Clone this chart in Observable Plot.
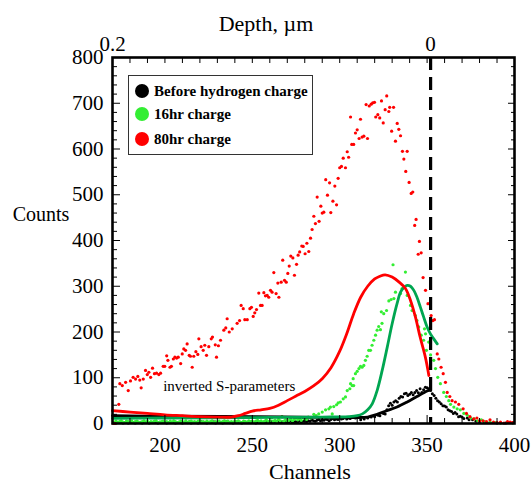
<!DOCTYPE html>
<html>
<head>
<meta charset="utf-8">
<script src="https://cdn.jsdelivr.net/npm/d3@7"></script>
<script src="https://cdn.jsdelivr.net/npm/@observablehq/plot@0.6"></script>
<style>
  html, body { margin: 0; padding: 0; background: #fff; }
  #wrap { position: relative; width: 531px; height: 484px; font-family: "Liberation Serif", "Times New Roman", serif; color: #000; }
  .t { position: absolute; white-space: nowrap; line-height: 1; transform: translate(-50%, -50%); }
  #legend { position: absolute; left: 128px; top: 75px; width: 183px; height: 78px; border: 1.5px solid #333; background: #fff; }
  .li { position: absolute; left: 6px; font-weight: bold; font-size: 15px; line-height: 1; white-space: nowrap; }
  .li span.c { display: inline-block; width: 14px; height: 14px; border-radius: 50%; vertical-align: -2px; margin-right: 5px; }
</style>
</head>
<body>
<div id="wrap"></div>
<script>
// ---------- data ----------
const seriesNames = ["Before hydrogen charge", "16hr charge", "80hr charge"];
const seriesColors = ["#000000", "#33ee33", "#ff0000"];
const fitColors = ["#000000", "#00a651", "#ff0000"];

const xMajor = [200, 250, 300, 350, 400];
const xMinor = [180, 190, 210, 220, 230, 240, 260, 270, 280, 290, 310, 320, 330, 340, 360, 370, 380, 390];
const yMajor = [0, 100, 200, 300, 400, 500, 600, 700, 800];
const yMinor = [20, 40, 60, 80, 120, 140, 160, 180, 220, 240, 260, 280, 320, 340, 360, 380, 420, 440, 460, 480, 520, 540, 560, 580, 620, 640, 660, 680, 720, 740, 760, 780];
const depthLabels = ["0.2", "0"];
const depthChannels = [170, 352];
const surfaceChannel = [352];

// 80hr charge, measured points [channel, counts]
const redDots = [[170.5,0],[171.5,0],[173.6,42],[174.2,87],[175.6,83],[177.5,90],[179,72],[180.3,93],[181.8,101],[183.2,97],[184.5,103],[185.6,95],[186.4,78],[187.6,97],[188.9,116],[189.9,107],[190.8,112],[191.8,101],[192.9,121],[194,109],[195.2,110],[196.5,107],[197.5,110],[199,125],[199.9,125],[201,148],[201.7,138],[202.9,123],[203.7,125],[204.8,141],[205.7,145],[206.7,143],[207.6,145],[209,131],[209.9,152],[210.8,163],[211.8,160],[212.7,174],[213.9,149],[214.6,147],[215.6,123],[216.5,147],[217.7,157],[218.8,151],[219.4,185],[220.7,168],[221.9,160],[222.8,171],[223.8,149],[225.1,168],[226.5,185],[227.2,189],[228.8,172],[229.5,145],[230.6,170],[231.8,182],[233.7,204],[234.8,209],[235.6,229],[236.8,200],[238.5,207],[241.3,219],[242.7,225],[243.6,258],[244.8,251],[245.7,227],[247.1,227],[248.6,251],[249.5,254],[250.5,234],[251.4,242],[252.4,249],[253.7,285],[254.7,258],[255.6,258],[256.6,286],[257.5,279],[258.5,280],[259.4,276],[260.4,291],[261.3,287],[262.3,330],[263.6,284],[264.6,307],[265.2,276],[266.5,309],[267.4,357],[268.4,313],[269.4,309],[270.3,328],[271.1,344],[272,366],[273.2,362],[274.1,324],[275.3,348],[276.2,368],[277.1,375],[278.3,388],[279.1,387],[280.2,371],[281.2,394],[282.3,376],[283.3,405],[284.2,424],[285.2,453],[286.1,437],[287.1,495],[288.2,442],[289.2,475],[290,460],[290.9,462],[292,533],[293,499],[294.2,526],[294.9,461],[296.1,486],[297.2,519],[298.2,478],[299.1,536],[300,559],[301,562],[302,580],[303.3,559],[304.3,594],[305.1,582],[306.2,670],[306.9,610],[308,610],[309,635],[310,642],[311.1,623],[311.9,665],[312.8,626],[313.8,628],[315.1,697],[315.9,623],[316.9,694],[318,698],[318.9,701],[319.9,702],[320.6,670],[321.8,675],[322.9,668],[323.9,705],[324.9,657],[326,686],[326.9,716],[328.1,682],[328.6,691],[329.7,639],[330.8,691],[331.9,617],[332.9,656],[333.8,643],[334.8,629],[335.9,595],[336.7,578],[337.8,551],[338.6,595],[339.7,527],[340.9,503],[341.8,506],[342.9,433],[343.7,446],[344.9,370],[345.6,398],[346.6,373],[347.7,319],[349.1,291],[350.5,262],[352.3,236],[353.3,225],[354.2,227],[355.8,152],[356.7,141],[358,123],[359.2,109],[360.5,90],[361.5,68],[363,59],[364.3,50],[366.2,47],[368.1,42],[370.6,32],[372.5,22],[374.5,15],[376.7,10],[378.5,12],[380,6],[382,6],[384,4],[386,8],[388,3],[390,2],[392,3],[394,1],[396,4],[397.5,3],[399,2]];

// 16hr charge: low plateau counts for channels 171..282, then measured points
const greenLowStart = 171;
const greenLow = [3,5,2,4,6,3,2,5,4,3, 6,2,4,5,3,2,4,6,3,5, 2,4,3,5,6,2,3,4,5,3, 4,2,5,3,6,4,2,3,5,4, 3,6,2,4,5,3,4,2,5,6, 3,4,2,5,3,4,6,2,4,3, 5,2,4,6,3,5,2,4,3,5, 4,6,3,2,5,4,3,6,4,5, 3,5,7,4,6,3,5,8,4,6, 12,5,7,4,9,6,15,5,8,6, 7,10,6,9,12,8,11,7,13,10, 9,14];
const greenDots = [[283.5,12],[285.2,20],[286.5,17],[288,21],[290,25],[291.9,30],[293.8,32],[294.7,36],[295.7,21],[296.6,37],[298.2,41],[299.1,45],[300.4,47],[302,54],[303.3,58],[304.3,72],[305.8,76],[306.2,87],[307.1,83],[307.7,98],[308,83],[309,109],[310,114],[311,120],[311.9,125],[312.8,123],[313.8,127],[314.7,138],[315.7,147],[316.6,160],[317.6,160],[318.5,171],[319.5,182],[320.5,193],[321.4,204],[322.3,212],[323.3,205],[323.8,244],[324.2,219],[325.2,240],[326.8,247],[328.1,268],[329.4,271],[330.5,347],[331,273],[331.9,287],[334.8,284],[335.7,295],[337.6,331],[338.6,280],[340.5,258],[341.4,247],[343.3,236],[344.2,225],[345.2,211],[346.6,193],[348,182],[348.5,207],[349.1,196],[349.6,160],[350.9,178],[352,150],[353.8,138],[354.8,120],[356.1,101],[357.6,87],[359.5,68],[361,59],[362.4,50],[363.4,42],[365.3,36],[367.2,32],[369,30],[371,22],[373,18],[375,12],[377,10],[379,6],[381,8],[383,4],[386,3],[389,2],[392,1],[396,2],[399,1]];

// Before hydrogen charge: low plateau counts for channels 171..311, then measured points
const blackLowStart = 171;
const blackLow = [2,1,3,2,4,1,2,3,1,2, 3,2,1,4,2,3,1,2,3,2, 1,3,2,4,2,1,3,2,2,3, 1,2,4,2,3,1,2,3,2,1, 3,2,2,4,1,3,2,3,1,2, 4,2,3,1,2,3,2,4,1,3, 2,3,1,2,4,2,3,2,1,3, 2,4,3,1,2,3,2,4,3,2, 3,1,4,2,3,2,4,3,2,3, 4,2,3,5,3,2,4,3,5,3, 4,6,3,5,4,3,6,4,5,7, 4,6,5,8,6,5,7,9,6,8, 7,10,8,6,9,11,8,10,9,12, 10,11,13,10,12,11,14,13,12,15, 14];
const blackDots = [[312,8],[314,10],[316,12],[318,14],[320,15],[322,18],[323,17],[325,22],[326,21],[327,30],[328,39],[329,44],[330,40],[331,47],[332,50],[333,47],[334,55],[335,59],[336,58],[337,65],[338,66],[339,61],[340,64],[341,68],[342,63],[343,68],[344,72],[345,67],[346,76],[347,68],[348,74],[349,79],[350,78],[351,76],[352,72],[353,65],[354,61],[355,55],[356,50],[357,47],[358,43],[359,39],[360,38],[361,36],[362,30],[363,28],[364,26],[365,22],[366,24],[367,21],[368,15],[369,16],[370,14],[371,11],[373,12],[374,8],[376,8],[378,5],[380,4],[383,3],[386,2],[390,1],[395,1],[399,2]];

// inverted S-parameter fits [channel, counts]
const redFit = [[170,28],[180,25],[190,22],[200,19],[210,17],[220,15],[230,14],[238,14],[242,17],[246,22],[250,27],[255,30],[260,33],[265,40],[270,50],[275,60],[280,70],[285,82],[290,98],[295,122],[300,158],[304,196],[308,240],[312,276],[316,300],[320,316],[323,322],[326,325],[330,320],[334,309],[337.6,295],[340.5,269],[343.3,233],[346,189],[349,145],[351,105]];
const greenFit = [[170,11],[200,12],[250,13],[290,14],[305,15],[310,17],[313,21],[316,30],[318.6,43],[321.4,72],[324.3,116],[327.2,167],[330,218],[332.8,262],[334.8,287],[336.7,297],[338.6,302],[340.5,300],[342.4,291],[344.2,276],[346.1,255],[348,233],[350,211],[351.9,196],[353.8,185],[355.8,174]];
const blackFit = [[170,17],[200,16],[250,15],[300,13],[310,13],[316,14],[321.4,20],[327,28],[332.8,36],[338.6,47],[344.2,59],[350,71],[352,74]];

const annotation = [{ch: 199, c: 81, text: "inverted S-parameters"}];

// ---------- build ----------
const lowRows = (start, arr) => arr.map((v, i) => [start + i, v]);
const greenAll = lowRows(greenLowStart, greenLow).concat(greenDots);
const blackAll = lowRows(blackLowStart, blackLow).concat(blackDots);

const blank = () => "";
const chart = Plot.plot({
  width: 531,
  height: 484,
  marginLeft: 112,
  marginRight: 17,
  marginTop: 57,
  marginBottom: 61,
  style: { fontFamily: "'Liberation Serif', 'Times New Roman', serif", fontSize: "21px", background: "#fff", color: "#000", overflow: "visible" },
  x: { domain: [170, 400] },
  y: { domain: [0, 800] },
  marks: [
    // dots
    Plot.dot(blackAll, { x: d => d[0], y: d => d[1], r: 1.5, fill: seriesColors[0], stroke: null }),
    Plot.dot(greenAll, { x: d => d[0], y: d => d[1], r: 1.6, fill: seriesColors[1], stroke: null }),
    Plot.dot(redDots, { x: d => d[0], y: d => d[1], r: 1.6, fill: seriesColors[2], stroke: null }),
    // fits
    Plot.line(blackFit, { x: d => d[0], y: d => d[1], stroke: fitColors[0], strokeWidth: 2.8, curve: "catmull-rom" }),
    Plot.line(greenFit, { x: d => d[0], y: d => d[1], stroke: fitColors[1], strokeWidth: 2.8, curve: "catmull-rom" }),
    Plot.line(redFit, { x: d => d[0], y: d => d[1], stroke: fitColors[2], strokeWidth: 2.8, curve: "catmull-rom" }),
    // surface line (dashes start at the top)
    Plot.ruleX(surfaceChannel, { x: d => d, y1: 800, y2: 0, stroke: "#000", strokeWidth: 3.2, strokeDasharray: "13,7" }),
    Plot.text(annotation, { x: "ch", y: "c", text: "text", textAnchor: "start", fontSize: 15, fill: "#000" }),
    // axes: labels
    Plot.axisX({ anchor: "bottom", ticks: xMajor, tickSize: 0, tickPadding: 14, label: null }),
    Plot.axisY({ anchor: "left", ticks: yMajor, tickSize: 0, tickPadding: 9, label: null }),
    Plot.axisX({ anchor: "top", ticks: depthChannels, tickSize: 0, tickPadding: 7, tickFormat: d => depthLabels[depthChannels.indexOf(d)], label: null }),
    // inward ticks
    Plot.axisX({ anchor: "bottom", ticks: xMajor, tickSize: -8, tickFormat: blank, label: null }),
    Plot.axisX({ anchor: "bottom", ticks: xMinor, tickSize: -5, tickFormat: blank, label: null }),
    Plot.axisX({ anchor: "top", ticks: xMajor.concat(xMinor), tickSize: -5, tickFormat: blank, label: null }),
    Plot.axisY({ anchor: "left", ticks: yMajor, tickSize: -8, tickFormat: blank, label: null }),
    Plot.axisY({ anchor: "left", ticks: yMinor, tickSize: -5, tickFormat: blank, label: null }),
    Plot.axisY({ anchor: "right", ticks: yMajor, tickSize: -7, tickFormat: blank, label: null }),
    Plot.axisY({ anchor: "right", ticks: yMinor, tickSize: -4, tickFormat: blank, label: null }),
    Plot.frame({ stroke: "#000", strokeWidth: 2.6 })
  ]
});

const wrap = document.getElementById("wrap");
wrap.appendChild(chart);

function addText(txt, x, y, size, extra) {
  const d = document.createElement("div");
  d.className = "t";
  d.textContent = txt;
  d.style.left = x + "px";
  d.style.top = y + "px";
  d.style.fontSize = size + "px";
  if (extra) Object.assign(d.style, extra);
  wrap.appendChild(d);
}
addText("Depth, \u00b5m", 266, 24, 22);
addText("Counts", 41, 214, 20);
addText("Channels", 310, 472, 22);

const leg = document.createElement("div");
leg.id = "legend";
const tops = [8, 31, 56];
seriesNames.forEach((n, i) => {
  const row = document.createElement("div");
  row.className = "li";
  row.style.top = tops[i] + "px";
  const c = document.createElement("span");
  c.className = "c";
  c.style.background = seriesColors[i];
  row.appendChild(c);
  row.appendChild(document.createTextNode(n));
  leg.appendChild(row);
});
wrap.appendChild(leg);
</script>
</body>
</html>
